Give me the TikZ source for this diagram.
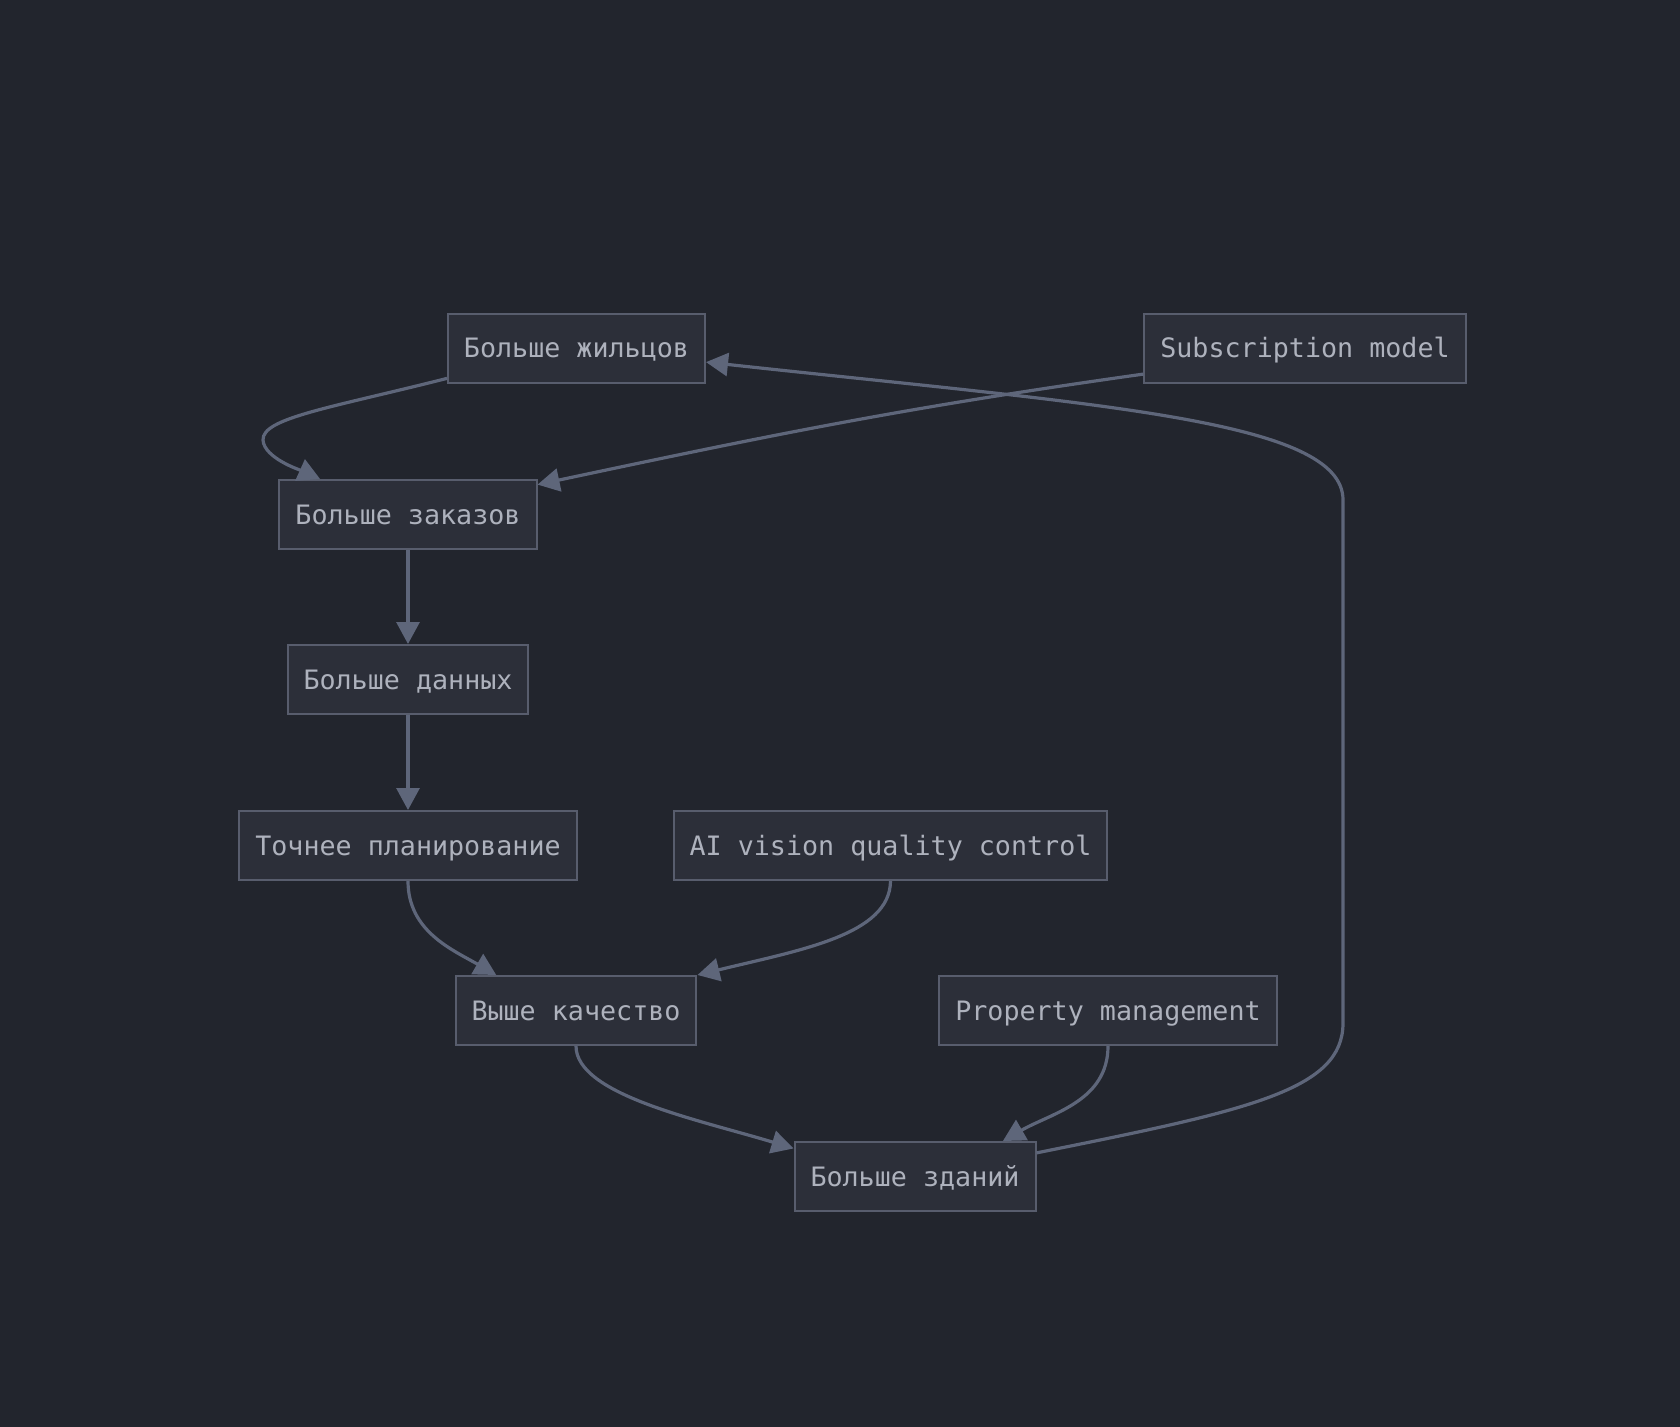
\documentclass[tikz,border=0pt]{standalone}
\usepackage{fontspec}
\setmonofont{DejaVu Sans Mono}
\usetikzlibrary{arrows.meta}
\definecolor{bgcol}{HTML}{22252D}
\definecolor{boxfill}{HTML}{2C2F39}
\definecolor{boxline}{HTML}{585D6D}
\definecolor{boxtext}{HTML}{AEB2BD}
\definecolor{linkcol}{HTML}{5E667A}
\begin{document}
\begin{tikzpicture}[x=0.5pt, y=0.5pt,
  box node/.style={draw=boxline, fill=boxfill, line width=1pt, text=boxtext,
    font=\ttfamily\fontsize{13.35pt}{16pt}\selectfont,
    minimum height=34.5pt, inner xsep=8pt, inner ysep=0pt,
    text height=11.3pt, text depth=1.8pt},
  link/.style={draw=linkcol, line width=1.6pt,
    -{Triangle[length=11pt,width=11.5pt,fill=linkcol]}}]

  \fill[bgcol] (0,0) rectangle (1680,-1427);
  \useasboundingbox (0,0) rectangle (1680,-1427);

  \node[box node] (n0) at (576.5,-348.5) {Больше жильцов};
  \node[box node] (n1) at (1305,-348.5) {Subscription model};
  \node[box node] (n2) at (408,-514.5) {Больше заказов};
  \node[box node] (n3) at (408,-679.5) {Больше данных};
  \node[box node] (n4) at (408,-845.5) {Точнее планирование};
  \node[box node] (n5) at (890.5,-845.5) {AI vision quality control};
  \node[box node] (n6) at (576,-1010.5) {Выше качество};
  \node[box node] (n7) at (1108,-1010.5) {Property management};
  \node[box node] (n8) at (915,-1176.5) {Больше зданий};

 \path[]
 (n1.189) edge [link, out=188, in=12] (n2.13)
 (n2) edge [link] (n3)
 (n3) edge [link] (n4)
 (n4.south) edge [link, out=-90, in=150] (n6.156)
 (n7.south) edge [link, out=-90, in=30] (n8.22);

 \draw[link] (n5.south) .. controls (890,-935) and (800,-950) .. (n6.north east);
 \draw[link] (n6.south) .. controls (576,-1095) and (700,-1120) .. (n8.167);
 \draw[link] (n0.193) .. controls (330,-408) and (262,-418) .. (263,-440)
   .. controls (264,-458) and (300,-470) .. (n2.158);
 \draw[link] (n8.11) .. controls (1250,-1110) and (1343,-1090) .. (1343,-1023)
   -- (1343,-500) .. controls (1343,-420) and (1100,-405) .. (n0.-6);
\end{tikzpicture}
\end{document}
